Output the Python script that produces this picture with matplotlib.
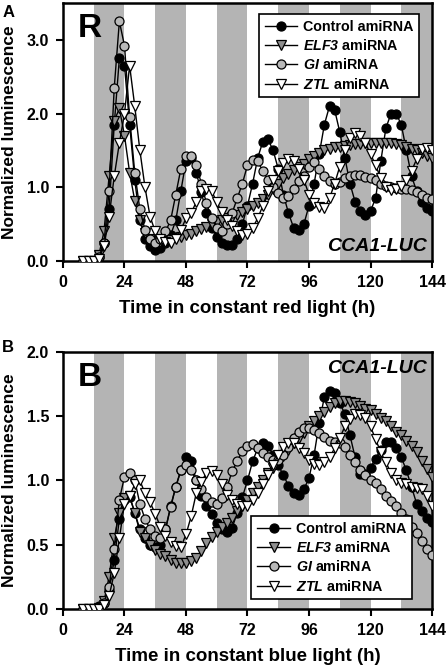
import numpy as np
import matplotlib
matplotlib.use("Agg")
from matplotlib import pyplot as plt

plt.rcParams['font.family'] = ['Liberation Sans', 'DejaVu Sans']
plt.rcParams['font.weight'] = 'bold'
# math text is only used for the italic gene names in the legend
plt.rcParams['mathtext.fontset'] = 'custom'
plt.rcParams['mathtext.rm'] = 'Liberation Sans:italic:bold'
plt.rcParams['mathtext.it'] = 'Liberation Sans:italic:bold'

# sampling grid (h in constant light)
hours = np.arange(8, 145, 2)
night_starts = [12, 36, 60, 84, 108, 132]
night_len = 12

# ---- red light ----
red_control = [0, 0, 0, 0.05, 0.25, 0.7, 1.85, 2.75, 2.65, 1.85,
               1.1, 0.55, 0.3, 0.2, 0.15, 0.18, 0.25, 0.35, 0.55, 0.95,
               1.35, 1.4, 1.2, 0.93, 0.65, 0.45, 0.33, 0.25, 0.21, 0.22,
               0.3, 0.5, 0.75, 1.05, 1.4, 1.62, 1.65, 1.5, 1.25, 0.9,
               0.65, 0.45, 0.42, 0.5, 0.75, 1.05, 1.45, 1.85, 2.1, 2.05,
               1.75, 1.4, 1.05, 0.8, 0.68, 0.62, 0.68, 0.85, 1.35, 1.8,
               2.0, 2.0, 1.85, 1.5, 1.15, 0.95, 0.8, 0.72, 0.68]
red_elf3 = [0, 0, 0, 0.08, 0.4, 1.15, 1.9, 2.07, 1.7, 1.2,
            0.82, 0.55, 0.38, 0.3, 0.27, 0.26, 0.27, 0.29, 0.31, 0.33,
            0.35, 0.37, 0.4, 0.43, 0.46, 0.5, 0.53, 0.56, 0.58, 0.6,
            0.63, 0.66, 0.7, 0.74, 0.78, 0.84, 0.9, 0.98, 1.05, 1.12,
            1.18, 1.24, 1.28, 1.32, 1.38, 1.43, 1.47, 1.5, 1.52, 1.54,
            1.55, 1.56, 1.57, 1.58, 1.59, 1.6, 1.6, 1.6, 1.6, 1.6,
            1.6, 1.59, 1.57, 1.55, 1.52, 1.5, 1.46, 1.42, 1.4]
red_gi = [0, 0, 0, 0.05, 0.25, 0.95, 2.35, 3.25, 2.92, 1.95,
          1.2, 0.7, 0.42, 0.3, 0.25, 0.3, 0.4, 0.55, 0.9, 1.25,
          1.42, 1.42, 1.3, 1.05, 0.78, 0.58, 0.45, 0.4, 0.5, 0.65,
          0.85, 1.05, 1.3, 1.37, 1.35, 1.22, 1.1, 1.0, 0.92, 0.85,
          0.88, 0.98, 1.08, 1.15, 1.28, 1.34, 1.25, 1.15, 1.08, 1.05,
          1.07, 1.12, 1.15, 1.16, 1.16, 1.14, 1.12, 1.1, 1.05, 1.02,
          1.0, 0.99, 0.98, 0.97, 0.96, 0.93, 0.9, 0.86, 0.84]
red_ztl = [0, 0, 0, 0.03, 0.2, 0.6, 1.15, 1.6, 2.0, 2.65,
           2.1, 1.5, 1.0, 0.6, 0.4, 0.3, 0.26, 0.25, 0.3, 0.42,
           0.58, 0.65, 0.8, 0.95, 0.98, 0.95, 0.8, 0.66, 0.55, 0.48,
           0.4, 0.35, 0.36, 0.45, 0.58, 0.75, 0.95, 1.1, 1.22, 1.33,
           1.39, 1.36, 1.25, 1.1, 0.9, 0.78, 0.73, 0.72, 0.85, 1.05,
           1.28, 1.5, 1.67, 1.73, 1.7, 1.6, 1.45, 1.3, 1.12, 1.0,
           0.96, 0.97, 1.02, 1.1, 1.22, 1.38, 1.52, 1.53, 1.5]

# ---- blue light ----
blue_control = [0, 0, 0, 0.02, 0.05, 0.15, 0.38, 0.7, 0.85, 0.87,
                0.75, 0.62, 0.55, 0.5, 0.48, 0.5, 0.62, 0.8, 0.95, 1.08,
                1.18, 1.15, 1.0, 0.88, 0.8, 0.74, 0.67, 0.62, 0.6, 0.63,
                0.75, 0.87, 1.0, 1.15, 1.25, 1.29, 1.27, 1.2, 1.12, 1.04,
                0.96, 0.9, 0.89, 0.93, 1.02, 1.2, 1.45, 1.65, 1.7, 1.68,
                1.6, 1.52, 1.35, 1.18, 1.05, 1.05, 1.1, 1.17, 1.24, 1.3,
                1.3, 1.25, 1.18, 1.08, 0.95, 0.82, 0.76, 0.71, 0.68]
blue_elf3 = [0, 0, 0, 0.01, 0.06, 0.25, 0.55, 0.75, 0.86, 0.88,
             0.75, 0.6, 0.55, 0.5, 0.46, 0.43, 0.41, 0.38, 0.36, 0.36,
             0.36, 0.37, 0.4, 0.45, 0.51, 0.56, 0.6, 0.64, 0.67, 0.71,
             0.76, 0.8, 0.85, 0.9, 0.95, 1.0, 1.06, 1.1, 1.15, 1.19,
             1.24, 1.29, 1.33, 1.37, 1.42, 1.46, 1.5, 1.53, 1.57, 1.6,
             1.62, 1.62, 1.61, 1.6, 1.58, 1.56, 1.55, 1.52, 1.49, 1.46,
             1.42, 1.38, 1.35, 1.31, 1.27, 1.22, 1.15, 1.09, 1.03]
blue_gi = [0, 0, 0, 0.01, 0.05, 0.17, 0.47, 0.85, 1.03, 1.06,
           1.0, 0.82, 0.7, 0.62, 0.57, 0.55, 0.62, 0.79, 0.95, 1.08,
           1.12, 1.08, 1.0, 0.93, 0.87, 0.83, 0.82, 0.86, 0.95, 1.07,
           1.15, 1.23, 1.27, 1.28, 1.25, 1.21, 1.18, 1.16, 1.16, 1.2,
           1.26, 1.33, 1.38, 1.41, 1.41, 1.39, 1.37, 1.34, 1.31, 1.3,
           1.29, 1.26, 1.2, 1.14, 1.08, 1.04, 1.0, 0.98, 0.93, 0.88,
           0.84, 0.8, 0.75, 0.7, 0.64, 0.59, 0.53, 0.47, 0.42]
blue_ztl = [0, 0, 0, 0, 0.03, 0.1, 0.28, 0.55, 0.82, 0.88,
            0.97, 1.0, 0.9, 0.83, 0.74, 0.64, 0.57, 0.52, 0.49, 0.48,
            0.58, 0.72, 0.9, 0.99, 1.06, 1.07, 1.04, 0.97, 0.89, 0.85,
            0.82, 0.8, 0.8, 0.85, 0.9, 0.97, 1.04, 1.12, 1.2, 1.26,
            1.29, 1.29, 1.25, 1.21, 1.16, 1.13, 1.12, 1.14, 1.18, 1.25,
            1.33, 1.42, 1.48, 1.52, 1.51, 1.49, 1.42, 1.32, 1.22, 1.14,
            1.06, 1.0, 0.98, 0.97, 0.95, 0.94, 0.93, 0.88, 0.8]

labels = ["Control amiRNA", r"$ELF3$ amiRNA",
          r"$GI$ amiRNA", r"$ZTL$ amiRNA"]
styles = [dict(marker='o', mfc='black'),
          dict(marker='v', mfc='#8f8f8f'),
          dict(marker='o', mfc='#b9b9b9'),
          dict(marker='v', mfc='white')]

xticks = [0, 24, 48, 72, 96, 120, 144]


def draw_panel(ax, series, yticks, ylim, xlabel, legend_loc, legend_anchor):
    for s in night_starts:
        ax.axvspan(s, s + night_len, color='#b4b4b4', lw=0, zorder=0)
    for vals, lab, st in zip(series, labels, styles):
        ax.plot(hours, vals, color='black', lw=1.0, ms=6.5, mec='black',
                mew=0.9, label=lab, zorder=3, **st)
    ax.set_xlim(0, 144)
    ax.set_ylim(*ylim)
    ax.set_xticks(xticks)
    ax.set_yticks(yticks)
    ax.set_yticklabels([f"{v:.1f}" for v in yticks])
    ax.tick_params(direction='out', length=5, width=1.5, labelsize=11.5, pad=5)
    for sp in ax.spines.values():
        sp.set_linewidth(1.8)
    ax.set_xlabel(xlabel, fontsize=13.5, fontweight='bold', labelpad=7)
    ax.set_ylabel("Normalized luminescence", fontsize=12.5, fontweight='bold', labelpad=7)
    leg = ax.legend(loc=legend_loc, bbox_to_anchor=legend_anchor, fontsize=10.3,
                    handlelength=2.3, handletextpad=0.4, labelspacing=0.3,
                    borderpad=0.4, fancybox=False, framealpha=1,
                    edgecolor='black')
    leg.get_frame().set_linewidth(1.2)
    leg.set_zorder(5)


fig = plt.figure(figsize=(4.48, 6.69), dpi=100)
ax1 = fig.add_axes([0.1406, 0.6099, 0.8237, 0.3857])
ax2 = fig.add_axes([0.1406, 0.0897, 0.8237, 0.3842])

draw_panel(ax1, [red_control, red_elf3, red_gi, red_ztl], [0, 1, 2, 3], (0, 3.5),
           "Time in constant red light (h)", 'upper right', (0.985, 0.985))
draw_panel(ax2, [blue_control, blue_elf3, blue_gi, blue_ztl], [0, 0.5, 1.0, 1.5, 2.0], (0, 2.0),
           "Time in constant blue light (h)", 'lower right', (0.965, 0.01))

ax1.text(0.04, 0.96, "R", transform=ax1.transAxes, fontsize=24, fontweight='bold',
         va='top', ha='left', zorder=6)
ax2.text(0.04, 0.96, "B", transform=ax2.transAxes, fontsize=24, fontweight='bold',
         va='top', ha='left', zorder=6)
ax1.text(0.985, 0.025, "CCA1-LUC", transform=ax1.transAxes, fontsize=14,
         fontweight='bold', style='italic', ha='right', va='bottom', zorder=6)
ax2.text(0.985, 0.97, "CCA1-LUC", transform=ax2.transAxes, fontsize=14,
         fontweight='bold', style='italic', ha='right', va='top', zorder=6)

fig.text(0.005, 0.992, "A", fontsize=12, fontweight='bold', va='top', ha='left')
fig.text(0.005, 0.492, "B", fontsize=12, fontweight='bold', va='top', ha='left')

fig.savefig("out.png", dpi=100)
